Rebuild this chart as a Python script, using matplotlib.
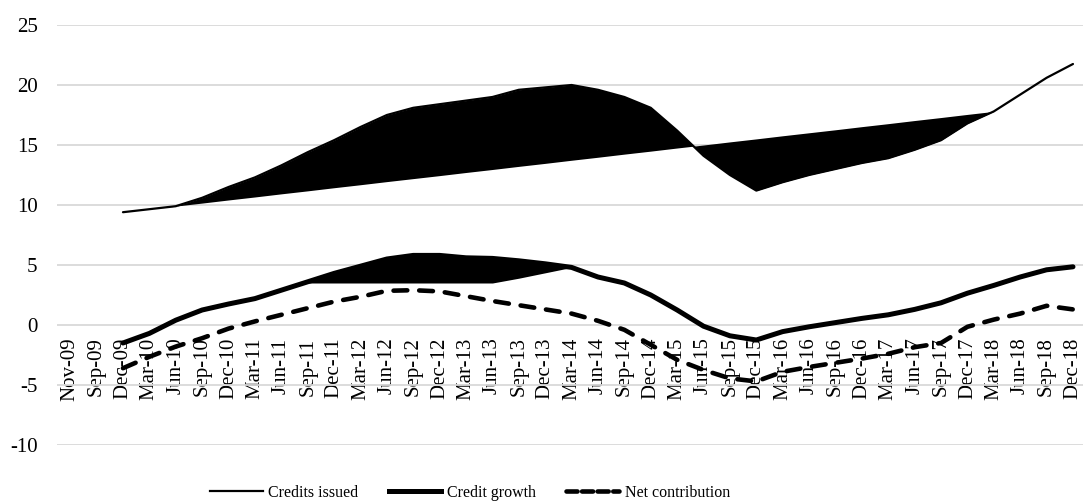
import numpy as np
import matplotlib
matplotlib.use("Agg")
import matplotlib.pyplot as plt
from matplotlib.lines import Line2D

plt.rcParams['font.family'] = ['Liberation Serif', 'DejaVu Serif']
plt.rcParams['axes.unicode_minus'] = False

nan = np.nan

categories = ["Nov-09", "Sep-09", "Dec-09", "Mar-10", "Jun-10", "Sep-10", "Dec-10",
              "Mar-11", "Jun-11", "Sep-11", "Dec-11", "Mar-12", "Jun-12", "Sep-12",
              "Dec-12", "Mar-13", "Jun-13", "Sep-13", "Dec-13", "Mar-14", "Jun-14",
              "Sep-14", "Dec-14", "Mar-15", "Jun-15", "Sep-15", "Dec-15", "Mar-16",
              "Jun-16", "Sep-16", "Dec-16", "Mar-17", "Jun-17", "Sep-17", "Dec-17",
              "Mar-18", "Jun-18", "Sep-18", "Dec-18"]

credits_issued = [nan, nan, 9.4, 9.65, 9.9, 10.6, 11.5, 12.3, 13.3, 14.4, 15.4, 16.5,
                  17.5, 18.1, 18.4, 18.7, 19.0, 19.6, 19.8, 20.0, 19.6, 19.0, 18.1,
                  16.2, 14.1, 12.5, 11.2, 11.9, 12.5, 13.0, 13.5, 13.9, 14.6, 15.4,
                  16.8, 17.8, 19.2, 20.6, 21.75]

# long-run trend of credits issued (Dec-09 .. Mar-18)
credits_trend = [nan, nan, 9.40, 9.65, 9.91, 10.16, 10.42, 10.67, 10.93, 11.18, 11.44,
                 11.69, 11.95, 12.20, 12.45, 12.71, 12.96, 13.22, 13.47, 13.73, 13.98,
                 14.24, 14.49, 14.75, 15.00, 15.26, 15.51, 15.77, 16.02, 16.27, 16.53,
                 16.78, 17.04, 17.29, 17.55, 17.80, nan, nan, nan]

credit_growth = [nan, nan, -1.5, -0.7, 0.4, 1.25, 1.75, 2.2, 2.9, 3.6, 4.3, 4.9, 5.5,
                 5.8, 5.8, 5.6, 5.55, 5.35, 5.1, 4.8, 4.0, 3.5, 2.5, 1.25, -0.1, -0.9,
                 -1.25, -0.55, -0.15, 0.2, 0.55, 0.85, 1.3, 1.85, 2.65, 3.3, 4.0, 4.6,
                 4.85]

# base of the shaded credit-growth band (Sep-11 .. Mar-14)
growth_base = [nan, nan, nan, nan, nan, nan, nan, nan, nan, 3.5, 3.5, 3.5, 3.5, 3.5,
               3.5, 3.5, 3.5, 3.9, 4.35, 4.8, nan, nan, nan, nan, nan, nan, nan, nan,
               nan, nan, nan, nan, nan, nan, nan, nan, nan, nan, nan]

net_contribution = [nan, nan, -3.6, -2.65, -1.8, -1.1, -0.3, 0.3, 0.85, 1.4, 1.95,
                    2.35, 2.85, 2.9, 2.8, 2.4, 2.0, 1.65, 1.3, 0.95, 0.35, -0.4, -1.65,
                    -2.9, -3.75, -4.45, -4.7, -3.9, -3.5, -3.15, -2.8, -2.4, -1.85,
                    -1.5, -0.15, 0.45, 0.95, 1.6, 1.3]

y_ticks = [-10, -5, 0, 5, 10, 15, 20, 25]

W, H = 1083, 503
fig = plt.figure(figsize=(W / 100, H / 100), dpi=100)
ax = fig.add_axes([57 / W, 1 - 445 / H, (1083 - 57) / W, (445 - 25) / H])

x = np.arange(len(categories))
ci = np.array(credits_issued)
ct = np.array(credits_trend)
cg = np.array(credit_growth)
gb = np.array(growth_base)
nc = np.array(net_contribution)

ax.set_xlim(-0.5, len(categories) - 0.62)
ax.set_ylim(-10, 25)
ax.set_yticks(y_ticks)
ax.grid(axis='y', color='#d9d9d9', linewidth=1.3)
ax.set_axisbelow(True)
for s in ax.spines.values():
    s.set_visible(False)

# shaded gaps
m1 = ~np.isnan(ct) & ~np.isnan(ci)
ax.fill_between(x[m1], ci[m1], ct[m1], color='black', linewidth=0, interpolate=True)
m2 = ~np.isnan(gb)
ax.fill_between(x[m2], cg[m2], gb[m2], color='black', linewidth=0, interpolate=True)

ax.plot(x, ci, color='black', linewidth=1.6, solid_capstyle='round')
ax.plot(x, cg, color='black', linewidth=3.6, solid_capstyle='round',
        solid_joinstyle='round')
ax.plot(x, nc, color='black', linewidth=3.3, dashes=(3, 2.6),
        dash_capstyle='round')

# category labels hang from the zero line
ax.spines['bottom'].set_position(('data', 0))
ax.set_xticks(x)
ax.set_xticklabels(categories, rotation=90, fontsize=15)
ax.tick_params(axis='x', length=0, pad=9)
ax.tick_params(axis='y', length=0, pad=14, labelsize=15)

handles = [
    Line2D([], [], color='black', linewidth=1.6),
    Line2D([], [], color='black', linewidth=3.6),
    Line2D([], [], color='black', linewidth=3.3, dashes=(2.4, 1.0),
           dash_capstyle='round'),
]
fig.legend(handles, ["Credits issued", "Credit growth", "Net contribution"],
           loc='center', bbox_to_anchor=(470 / W, 1 - 493 / H), ncol=3,
           frameon=False, fontsize=11.5, handlelength=3.3, handletextpad=0.35,
           columnspacing=1.9, borderpad=0)

fig.savefig("out.png", dpi=100)
